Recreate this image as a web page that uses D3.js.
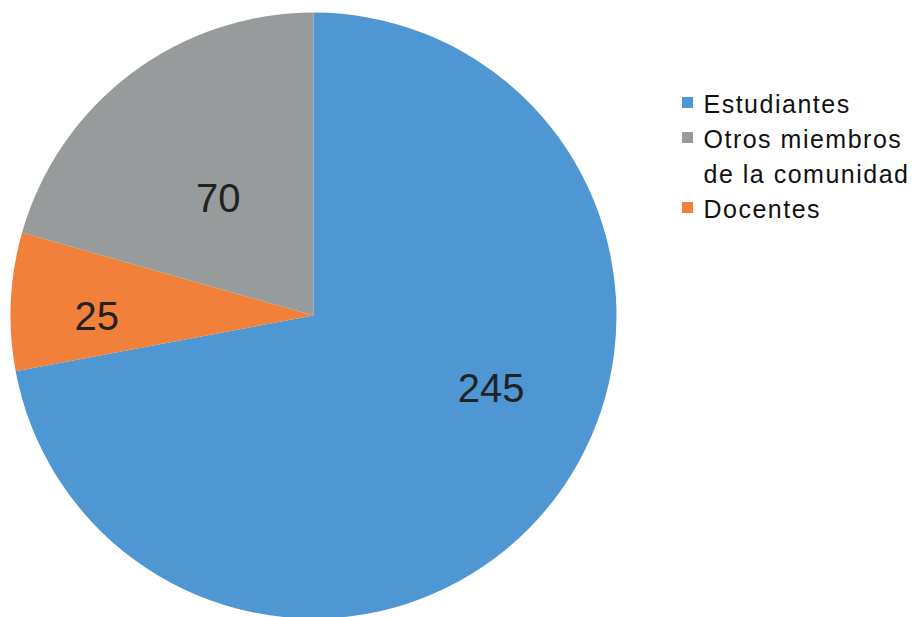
<!DOCTYPE html>
<html>
<head>
<meta charset="utf-8">
<script src="https://cdn.jsdelivr.net/npm/d3@7"></script>
<style>
  html, body { margin: 0; padding: 0; background: #fff; }
  svg { display: block; font-family: "Liberation Sans", Arial, sans-serif; }
</style>
</head>
<body>
<svg id="chart" width="915" height="617"></svg>
<script>
// Data (in drawing order, clockwise from 12 o'clock)
const categories = ["Estudiantes", "Docentes", "Otros miembros de la comunidad"];
const values = [245, 25, 70];
// Legend order as shown in the reference
const legendOrder = ["Estudiantes", "Otros miembros de la comunidad", "Docentes"];

const colors = {
  "Estudiantes": "#4f97d2",
  "Docentes": "#f1813a",
  "Otros miembros de la comunidad": "#979b9c"
};

const svg = d3.select("#chart");
const cx = 313.5, cy = 315.5, R = 303;

const pie = d3.pie().sort(null).value(d => d.v);
const arcs = pie(categories.map((c, i) => ({ c, v: values[i] })));
const arc = d3.arc().innerRadius(0).outerRadius(R);

const g = svg.append("g").attr("transform", `translate(${cx},${cy})`);
g.selectAll("path")
  .data(arcs)
  .enter().append("path")
  .attr("d", arc)
  .attr("fill", d => colors[d.data.c]);

// Label placement (fraction of slice angle, radius fraction)
const labelPlace = [
  { t: 0.4325, r: 0.633 },
  { t: 0.40, r: 0.715 },
  { t: 0.475, r: 0.50 }
];
g.selectAll("text.val")
  .data(arcs)
  .enter().append("text")
  .attr("class", "val")
  .attr("text-anchor", "middle")
  .attr("dominant-baseline", "central")
  .attr("font-size", 40)
  .attr("fill", "#222")
  .attr("x", (d, i) => {
    const a = d.startAngle + (d.endAngle - d.startAngle) * labelPlace[i].t;
    return Math.sin(a) * R * labelPlace[i].r;
  })
  .attr("y", (d, i) => {
    const a = d.startAngle + (d.endAngle - d.startAngle) * labelPlace[i].t;
    return -Math.cos(a) * R * labelPlace[i].r;
  })
  .text(d => d.data.v);

// Legend
const legend = svg.append("g").attr("transform", "translate(682,97)");
const lineH = 35;
let row = 0;
legendOrder.forEach(name => {
  const y0 = row * lineH;
  legend.append("rect")
    .attr("x", 0).attr("y", y0)
    .attr("width", 11).attr("height", 11)
    .attr("fill", colors[name]);
  const lines = name === "Otros miembros de la comunidad"
    ? ["Otros miembros", "de la comunidad"] : [name];
  lines.forEach((ln, k) => {
    legend.append("text")
      .attr("x", 21.5)
      .attr("y", y0 + 15.5 + k * lineH)
      .attr("font-size", 25)
      .attr("letter-spacing", 1.5)
      .attr("fill", "#111")
      .text(ln);
  });
  row += lines.length;
});
</script>
</body>
</html>
